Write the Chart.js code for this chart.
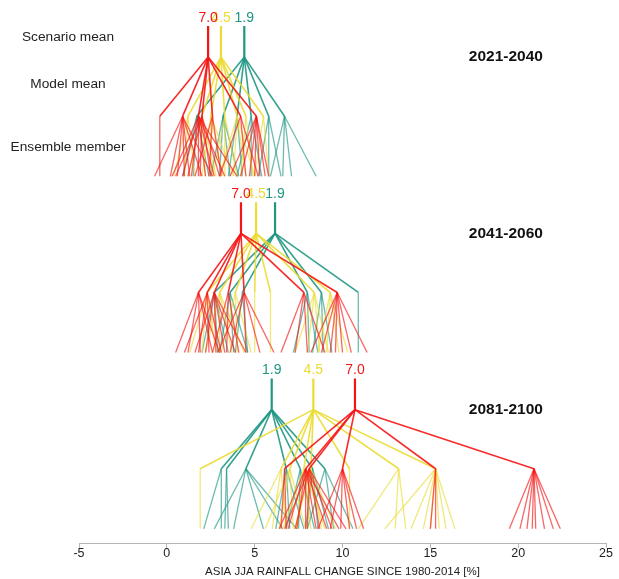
<!DOCTYPE html>
<html><head><meta charset="utf-8">
<script src="https://cdn.jsdelivr.net/npm/chart.js@4.4.0/dist/chart.umd.min.js"></script>
<style>html,body{margin:0;padding:0;background:#fff}#wrap{width:619px;height:579px;position:relative}</style>
</head><body><div id="wrap"><canvas id="c"></canvas></div>
<script>
// ---------- DATA ----------
const periods = ['2021-2040', '2041-2060', '2081-2100'];
const scenarioLabels = ['7.0', '4.5', '1.9'];
const xTicks = [-5, 0, 5, 10, 15, 20, 25];
const levelLabels = ['Scenario mean', 'Model mean', 'Ensemble member'];

// scenario means [7.0, 4.5, 1.9]
const mean2021 = [2.35, 3.08, 4.41];
const mean2041 = [4.22, 5.08, 6.16];
const mean2081 = [10.71, 8.34, 5.97];

// 2021-2040
const models2021_70 = [-0.4, 0.9, 1.8, 2.0, 2.6, 4.2, 5.1];
const members2021_70 = [[-0.4], [-0.7, 0.2, 0.6, 1.0, 1.3, 2.0, 2.6], [0.3, 0.9, 1.4, 1.8, 2.2, 2.7, 3.3, 4.0], [0.5, 1.2, 1.9, 2.5, 3.0], [1.6, 2.4, 3.1], [3.0, 4.5, 5.2], [3.6, 4.2, 4.7, 5.0, 5.3, 5.6, 5.8]];
const models2021_45 = [1.2, 2.0, 2.5, 3.3, 4.0, 4.5, 5.5];
const members2021_45 = [[0.4, 1.0, 1.6], [1.2, 2.2, 2.8], [2.0, 2.5, 3.2, 3.8], [2.6, 3.3, 4.0], [3.0, 3.8, 4.5, 5.0], [4.2, 4.9], [5.0, 5.8]];
const models2021_19 = [1.7, 3.2, 4.0, 4.8, 5.8, 6.7];
const members2021_19 = [[0.9, 1.5, 2.4], [2.5, 3.0, 3.6, 4.1], [3.5, 4.3], [4.0, 4.8, 5.4], [5.2, 5.8, 6.5], [5.9, 6.6, 7.1, 8.5]];

// 2041-2060
const models2041_70 = [1.8, 2.3, 2.7, 3.5, 4.4, 7.8, 9.7];
const members2041_70 = [[0.5, 1.2, 1.9, 2.6, 3.0], [1.0, 1.8, 2.4, 3.1], [1.6, 2.2, 2.8, 3.3, 3.9, 4.5], [2.6, 3.4, 4.1], [2.9, 3.6, 4.5, 5.3, 6.1], [6.5, 7.3, 8.0, 9.0], [8.2, 8.8, 9.3, 9.6, 10.0, 10.5, 11.4]];
const models2041_45 = [2.3, 3.0, 3.9, 5.0, 5.9, 8.4, 9.3];
const members2041_45 = [[1.3, 2.0, 2.8], [2.2, 3.0, 3.7, 4.4], [3.1, 4.0, 4.8], [5.0], [5.9], [7.3, 8.0, 8.7, 9.2], [8.6, 9.1, 9.8, 10.3]];
const models2041_19 = [2.7, 3.6, 4.3, 8.0, 8.8, 10.9];
const members2041_19 = [[2.0, 2.9, 3.5], [3.0, 3.8, 4.6], [3.9, 4.6], [7.2, 8.1, 8.6], [8.3, 8.9, 9.4], [10.9]];

// 2081-2100
const models2081_70 = [6.7, 7.9, 8.1, 10.0, 15.3, 20.9];
const members2081_70 = [[6.5, 6.8], [6.4, 6.9, 7.4, 7.9, 8.5, 9.1, 9.8], [6.7, 7.3, 8.0, 8.7, 9.4, 10.2], [8.6, 9.3, 9.9, 10.4, 10.8, 11.2], [15.0, 15.3], [19.5, 20.1, 20.5, 20.8, 21.0, 21.5, 22.0, 22.4]];
const models2081_45 = [1.9, 6.5, 7.0, 7.8, 8.2, 10.4, 13.2, 15.3];
const members2081_45 = [[1.9], [4.8, 6.0, 6.8], [5.6, 6.4, 7.2, 7.9], [6.6, 7.4, 8.2, 9.0], [7.3, 8.0, 8.8, 9.6], [10.4], [10.9, 13.0, 13.6], [12.4, 13.9, 14.6, 15.0, 15.5, 15.9, 16.4]];
const models2081_19 = [3.1, 3.4, 4.5, 6.8, 7.6, 8.3, 9.0];
const members2081_19 = [[2.1, 3.1], [3.3, 3.5], [2.7, 3.8, 5.5, 6.6, 7.4], [6.2, 7.0, 7.8], [6.8, 7.5, 8.4], [7.9, 8.6, 9.2], [8.0, 9.5, 10.6]];

// ---------- STYLE / LAYOUT ----------
const colors = ['245,20,20', '234,220,50', '30,150,130'];
const panelTop = [26, 202, 378];   // y units (scale runs top->bottom)
const STEM = 31, MODEL = 59, MEMBER = 60;

const means = [mean2021, mean2041, mean2081];
const modelSets = [
  [models2021_70, models2021_45, models2021_19],
  [models2041_70, models2041_45, models2041_19],
  [models2081_70, models2081_45, models2081_19]
];
const memberSets = [
  [members2021_70, members2021_45, members2021_19],
  [members2041_70, members2041_45, members2041_19],
  [members2081_70, members2081_45, members2081_19]
];

const datasets = [];
function seg(x1, y1, x2, y2, rgb, a, w) {
  datasets.push({
    data: [{x: x1, y: y1}, {x: x2, y: y2}],
    borderColor: 'rgba(' + rgb + ',' + a + ')',
    borderWidth: w, pointRadius: 0, tension: 0, fill: false
  });
}
for (let s = 0; s < 3; s++) {           // red first -> drawn on top
  for (let p = 0; p < 3; p++) {
    const top = panelTop[p], node = top + STEM, mY = node + MODEL, bY = mY + MEMBER;
    const m = means[p][s];
    seg(m, top, m, node, colors[s], 1, 2.2);
    const mods = modelSets[p][s], mems = memberSets[p][s];
    for (let i = 0; i < mods.length; i++) {
      seg(m, node, mods[i], mY, colors[s], 0.9, 1.6);
      for (const v of mems[i]) seg(mods[i], mY, v, bY, colors[s], 0.65, 1.3);
    }
  }
}

const FAM = '"Liberation Sans", Arial, Helvetica, sans-serif';
const textPlugin = {
  id: 'texts',
  afterDraw(chart) {
    const ctx = chart.ctx, xs = chart.scales.x, ys = chart.scales.y;
    ctx.save();
    ctx.textAlign = 'center'; ctx.textBaseline = 'middle';
    // level labels
    ctx.font = '13.7px ' + FAM;
    ctx.fillStyle = '#222';
    const lvY = [panelTop[0] + 11, panelTop[0] + STEM + 27, panelTop[0] + STEM + MODEL + 31];
    levelLabels.forEach((t, i) => ctx.fillText(t, 68, ys.getPixelForValue(lvY[i])));
    // period labels
    ctx.font = 'bold 15.5px ' + FAM;
    ctx.fillStyle = '#111';
    periods.forEach((t, p) => ctx.fillText(t, xs.getPixelForValue(19.3), ys.getPixelForValue(panelTop[p] + STEM)));
    // scenario labels
    ctx.font = '14px ' + FAM;
    [1, 0, 2].forEach(s => {
      ctx.fillStyle = 'rgb(' + colors[s] + ')';
      for (let p = 0; p < 3; p++) {
        ctx.fillText(scenarioLabels[s], xs.getPixelForValue(means[p][s]), ys.getPixelForValue(panelTop[p] - 8));
      }
    });
    ctx.restore();
  }
};

new Chart(document.getElementById('c'), {
  type: 'line',
  data: {datasets},
  options: {
    responsive: true, maintainAspectRatio: false, animation: false,
    layout: {padding: {left: 79, right: 13, top: 0, bottom: 0}},
    plugins: {legend: {display: false}, tooltip: {enabled: false}},
    scales: {
      x: {
        type: 'linear', min: -5, max: 25,
        afterBuildTicks: sc => { sc.ticks = xTicks.map(v => ({value: v})); },
        grid: {display: true, drawOnChartArea: false, tickLength: 4, color: '#b5b5b5'},
        border: {display: true, color: '#b5b5b5'},
        ticks: {color: '#222', padding: -1, font: {size: 12.5, family: FAM, lineHeight: 1.0}},
        title: {display: true, text: 'ASIA JJA RAINFALL CHANGE SINCE 1980-2014 [%]', color: '#222', padding: {top: 7, bottom: 1}, font: {size: 11.5, family: FAM, lineHeight: 1.1}}
      },
      y: {type: 'linear', display: false, min: 0, max: 543, reverse: true}
    }
  },
  plugins: [textPlugin]
});
</script>
</body></html>
